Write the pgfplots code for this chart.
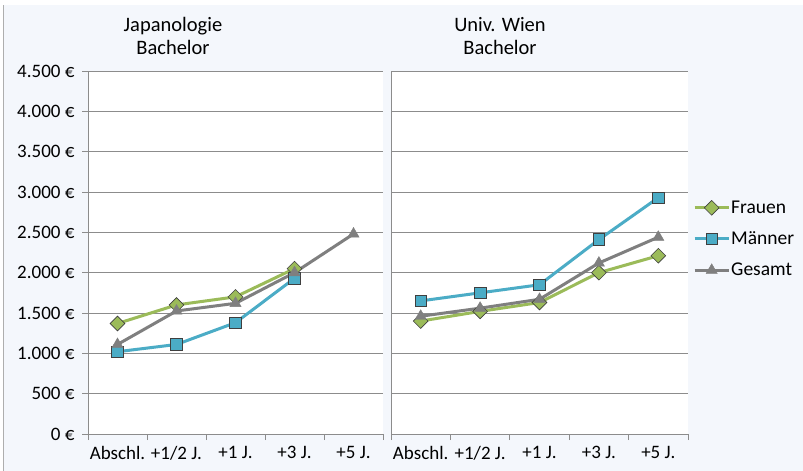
\documentclass[border=0pt]{standalone}
\usepackage{pgfplots}
\pgfplotsset{compat=1.18}
\usepackage{fontspec}
\setmainfont{Carlito}
\definecolor{bgc}{HTML}{F4F7FC}
\definecolor{gridc}{HTML}{8C8C8C}
\definecolor{fr}{HTML}{9BBB59}
\definecolor{ma}{HTML}{4BACC6}
\definecolor{ge}{HTML}{7F7F7F}
\definecolor{edge}{HTML}{3F3F3F}
\pgfplotsset{
  panel/.style={
    scale only axis, width=295pt, height=363pt, anchor=south west,
    axis background/.style={fill=white},
    xmin=0, xmax=5, ymin=0, ymax=4500,
    axis lines=left, axis line style={-, gridc, line width=0.8pt},
    xtick={0.5,1.5,2.5,3.5,4.5},
    xticklabels={Abschl., +1/2 J., +1 J., +3 J., +5 J.},
    minor xtick={0,1,2,3,4,5},
    major x tick style={draw=none},
    minor tick length=6pt, major tick length=6pt,
    tick align=outside,
    tick style={gridc, line width=0.8pt},
    ytick={0,500,...,4500},
    ymajorgrids, major grid style={gridc, line width=0.8pt},
    ticklabel style={font=\fontsize{19}{21}\selectfont, text=black},
    xticklabel style={yshift=-3pt},
    clip=false,
  },
  fr/.style={color=fr, line width=3pt, mark=square*, mark size=5.2pt, mark options={rotate=45, fill=fr, draw=edge, line width=0.6pt}},
  ma/.style={color=ma, line width=3pt, mark=square*, mark size=5.8pt, mark options={fill=ma, draw=edge, line width=0.6pt}},
  ge/.style={color=ge, line width=3pt, mark=triangle*, mark size=6.5pt, mark options={fill=ge, draw=ge, line width=0.4pt}},
}
\begin{document}
\begin{tikzpicture}[x=1pt,y=1pt]
\useasboundingbox (0,0) rectangle (803,471);
\fill[white] (0,0) rectangle (803,471);
\fill[bgc] (3,0) rectangle (803,466);
\draw[gridc!70, line width=0.8pt] (3,0) -- (3,466);
\begin{axis}[panel, at={(88pt,37pt)},
  yticklabels={0 €, 500 €, 1.000 €, 1.500 €, 2.000 €, 2.500 €, 3.000 €, 3.500 €, 4.000 €, 4.500 €},
  yticklabel style={xshift=-4pt}]
\addplot[fr] coordinates {(0.5,1370) (1.5,1600) (2.5,1700) (3.5,2050)};
\addplot[ma] coordinates {(0.5,1020) (1.5,1110) (2.5,1380) (3.5,1930)};
\addplot[ge] coordinates {(0.5,1110) (1.5,1525) (2.5,1620) (3.5,2000) (4.5,2480)};
\end{axis}
\begin{axis}[panel, at={(391pt,37pt)}, width=297pt,
  yticklabels={}, major y tick style={draw=none},
  legend style={at={(1.0,0.537)}, anchor=west, draw=none, fill=none,
    font=\fontsize{19.5}{22}\selectfont, row sep=13pt, inner sep=0pt,
    nodes={inner xsep=1pt}, xshift=5pt},
  legend cell align=left,
  legend image code/.code={\draw[mark repeat=2,mark phase=2] plot coordinates {(0pt,0pt) (17pt,0pt) (34pt,0pt)};}]
\addplot[fr] coordinates {(0.5,1400) (1.5,1520) (2.5,1630) (3.5,2000) (4.5,2210)};
\addplot[ma] coordinates {(0.5,1650) (1.5,1750) (2.5,1850) (3.5,2410) (4.5,2930)};
\addplot[ge] coordinates {(0.5,1460) (1.5,1560) (2.5,1670) (3.5,2120) (4.5,2440)};
\legend{Frauen, Männer, Gesamt}
\end{axis}
\node[anchor=base, font=\fontsize{20.5}{23}\selectfont] at (173,439) {Japanologie};
\node[anchor=base, font=\fontsize{20.5}{23}\selectfont] at (173,416) {Bachelor};
\node[anchor=base, font=\fontsize{20.5}{23}\selectfont] at (500,439) {Univ. Wien};
\node[anchor=base, font=\fontsize{20.5}{23}\selectfont] at (500,416) {Bachelor};
\end{tikzpicture}
\end{document}
